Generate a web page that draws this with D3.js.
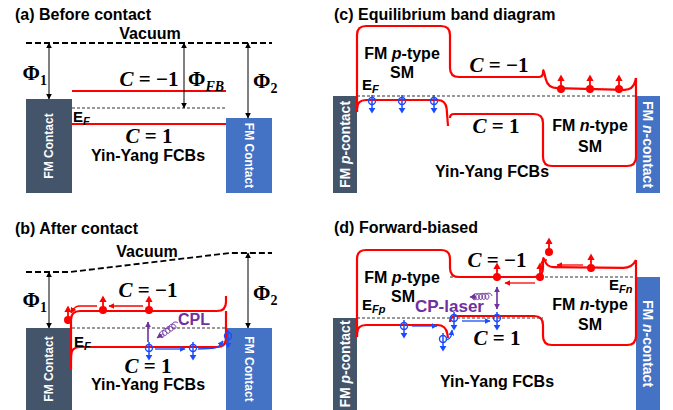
<!DOCTYPE html>
<html>
<head>
<meta charset="utf-8">
<script src="https://cdn.jsdelivr.net/npm/d3@7"></script>
<style>
  body { margin: 0; background: #fff; }
  svg { display: block; }
</style>
</head>
<body>
<div id="chart"></div>
<script>
// positions along the junction are in nm, energies in eV

const titles = ["(a) Before contact", "(b) After contact", "(c) Equilibrium band diagram", "(d) Forward-biased"];

// (a) before contact, energies below vacuum
const contactsA = [{ x0: 0, x1: 46, top: -2.8, side: "left", name: "FM Contact" },
                   { x0: 200, x1: 246, top: -3.75, side: "right", name: "FM Contact" }];
const bottomA = -7.5;
const levelsA = [-2.4, -4.05];          // C = -1 and C = 1 flat bands
const fermiA = -3.25;
const phiA = [{ sub: "1", pos: 23, E: -2.8, lpos: 21, lE: -1.85, anchor: "end" },
              { sub: "FB", pos: 158, E: -3.25, lpos: 162, lE: -2.15, anchor: "start" },
              { sub: "2", pos: 222, E: -3.75, lpos: 227, lE: -2.25, anchor: "start" }];
const textA = [{ t: "Vacuum", pos: 124, E: 0.2 }, { t: "Yin-Yang FCBs", pos: 122, E: -5.9 }];
const chernA = [{ c: "−1", pos: 123, E: -2.15 }, { c: "1", pos: 123, E: -5.0 }];
const efA = [{ sub: "F", pos: 47, E: -3.95 }];

// (b) after contact, energies from E_F
const vacuumB = [[0, 2.8], [44, 2.8], [204, 3.75], [246, 3.75]];
const contactsB = [{ x0: 0, x1: 46, top: 0, side: "left", name: "FM Contact" },
                   { x0: 200, x1: 246, top: 0, side: "right", name: "FM Contact" }];
const bottomB = -4.1;
const bandsB = [[[45, -2.05], [45, 0.85], [200, 0.85], [200, 1.6]],
                [[45, -1.6], [45, -0.95], [200, -0.95], [200, 0.85]]];
const phiB = [{ sub: "1", pos: 23, E: 2.8, lpos: 21, lE: 1.05, anchor: "end" },
              { sub: "2", pos: 222, E: 3.75, lpos: 227, lE: 1.4, anchor: "start" }];
const spinUpB = [[77, 0.9], [123, 0.9], [42, 0.4]];
const spinDownB = [[123, -1.0], [167, -1.0], [202, -0.4]];
const redFlowB = [[[117, 1.1], [83, 1.1]], [[71, 1.1], [49, 1.1], [45, 0.75]]];
const blueFlowB = [[[129, -1.05], [159, -1.05]], [[172, -1.05], [192, -1.0], [197, -0.65]]];
const pumpB = [[122, -0.7], [122, 0.3]];
const coilB = [[152, 0.25], [131, -0.5]];
const textB = [{ t: "Vacuum", pos: 121, E: 3.55 }, { t: "Yin-Yang FCBs", pos: 122, E: -3.1 }];
const chernB = [{ c: "−1", pos: 122, E: 1.55 }, { c: "1", pos: 122, E: -2.25 }];
const efB = [{ sub: "F", pos: 48, E: -0.95 }];
const lightB = [{ t: "CPL", pos: 152, E: 0.15 }];

// (c) equilibrium, energies from E_F
const contactsC = [{ x0: -24, x1: 0, top: 0, side: "left", name: "p" },
                   { x0: 279, x1: 303, top: 0, side: "right", name: "n" }];
const bottomC = -4.85;
const bandsC = [[[0, -0.8], [0, 3.5], [93, 3.5], [93, 0.95], [186, 0.95], [186, 1.4], [191, 0.4], [276, 0.3], [279, 0.9]],
                [[0, -0.8], [0, -0.2], [89, -0.2], [91, -1.5]],
                [[93, -1.1], [93, -0.9], [186, -0.9], [186, -3.5], [279, -3.5], [279, 0.9]]];
const fermiC = [{ E: 0, from: 0, to: 279 }];
const spinUpC = [[204, 0.35], [233, 0.35], [262, 0.35]];
const spinDownC = [[15, -0.25], [45, -0.25], [77, -0.25]];
const textC = [{ t: "SM", pos: 45, E: 0.9 }, { t: "SM", pos: 233, E: -2.8 }, { t: "Yin-Yang FCBs", pos: 135, E: -4.05 }];
const typeC = [{ k: "p", pos: 45, E: 1.85 }, { k: "n", pos: 233, E: -1.75 }];
const chernC = [{ c: "−1", pos: 142, E: 1.2 }, { c: "1", pos: 139, E: -1.85 }];
const efC = [{ sub: "F", pos: 5, E: 0.3 }];

// (d) forward bias, energies from E_Fp
const contactsD = [{ x0: -24, x1: 0, top: 0, side: "left", name: "p" },
                   { x0: 279, x1: 303, top: 2.05, side: "right", name: "n" }];
const bottomD = -4.6;
const bandsD = [[[0, -0.95], [0, 3.4], [93, 3.4], [93, 2.05], [186, 2.05], [186, 3.15], [190, 2.55], [275, 2.5], [279, 2.9]],
                [[0, -0.95], [0, -0.35], [89, -0.35], [91, -1.0]],
                [[93, -0.2], [93, 0.1], [186, 0.1], [186, -1.35], [279, -1.35], [279, 2.9]]];
const fermiD = [{ E: 0, from: 0, to: 186 }, { E: 2.05, from: 93, to: 279 }];
const spinUpD = [[140, 2.05], [183, 2.05], [192, 3.3], [234, 2.5]];
const spinDownD = [[47, -0.4], [86, -1.05], [97, 0], [140, 0]];
const redFlowD = [[[226, 2.65], [200, 2.65]], [[178, 1.75], [148, 1.75]], [[190, 2.9], [184, 2.9], [184, 2.35]]];
const blueFlowD = [[[55, -0.4], [80, -0.4]], [[105, -0.15], [133, -0.15]], [[89, -1.1], [94, -1.05], [95, -0.6]]];
const pumpD = [[140, 1.55], [140, 0.45]];
const coilD = [[135, 1.1], [113, 1.05]];
const textD = [{ t: "SM", pos: 46, E: 0.8 }, { t: "SM", pos: 233, E: -0.6 }, { t: "Yin-Yang FCBs", pos: 140, E: -3.45 }];
const typeD = [{ k: "p", pos: 45, E: 1.75 }, { k: "n", pos: 233, E: 0.4 }];
const chernD = [{ c: "−1", pos: 140, E: 2.55 }, { c: "1", pos: 140, E: -1.35 }];
const efD = [{ sub: "Fp", pos: 5, E: 0.4 }, { sub: "Fn", pos: 252, E: 1.4 }];
const lightD = [{ t: "CP-laser", pos: 58, E: 0.3 }];

const W = 673, H = 410;
const RED = "#ff0000", BLUE = "#1a4cff", PURPLE = "#7030a0", DARK = "#44546a", STEEL = "#4472c4";
const SANS = "'Liberation Sans', Arial, sans-serif", SERIF = "'Liberation Serif', 'Times New Roman', serif";

const svg = d3.select("#chart").append("svg")
    .attr("width", W).attr("height", H)
    .style("font-family", SANS);

const defs = svg.append("defs");
[["black", "#000"], ["red", RED], ["blue", BLUE], ["purple", PURPLE]].forEach(([id, c]) => {
    defs.append("marker").attr("id", "ah-" + id)
        .attr("viewBox", "0 -5 10 10").attr("refX", 9).attr("refY", 0)
        .attr("markerUnits", "userSpaceOnUse")
        .attr("markerWidth", 6).attr("markerHeight", 6)
        .attr("orient", "auto-start-reverse")
        .append("path").attr("d", "M0,-5L10,0L0,5Z").attr("fill", c);
});

// scales per panel
const xAB = d3.scaleLinear().domain([0, 246]).range([26, 272]);
const yA = d3.scaleLinear().domain([0, -1]).range([43, 63]);
const yB = d3.scaleLinear().domain([0, 1]).range([328, 308]);
const xCD = d3.scaleLinear().domain([0, 279]).range([357, 636]);
const yC = d3.scaleLinear().domain([0, 1]).range([96, 76]);
const yD = d3.scaleLinear().domain([0, 1]).range([318, 298]);

// polyline with rounded corners
function roundPath(pts, r) {
    const p = d3.path();
    p.moveTo(pts[0][0], pts[0][1]);
    for (let i = 1; i < pts.length - 1; i++) {
        const [x0, y0] = pts[i - 1], [x1, y1] = pts[i], [x2, y2] = pts[i + 1];
        const d1 = Math.hypot(x1 - x0, y1 - y0), d2 = Math.hypot(x2 - x1, y2 - y1);
        const rr = Math.min(r, i === 1 ? d1 : d1 / 2, i === pts.length - 2 ? d2 : d2 / 2);
        p.lineTo(x1 - (x1 - x0) / d1 * rr, y1 - (y1 - y0) / d1 * rr);
        p.quadraticCurveTo(x1, y1, x1 + (x2 - x1) / d2 * rr, y1 + (y2 - y1) / d2 * rr);
    }
    const last = pts[pts.length - 1];
    p.lineTo(last[0], last[1]);
    return p.toString();
}

function panel(x, y) {
    const g = svg.append("g");
    const px = d => [x(d[0]), y(d[1])];

    g.contacts = function (list, bottom) {
        list.forEach(c => {
            const x0 = x(c.x0), x1 = x(c.x1), y0 = y(c.top), y1 = Math.min(y(bottom), H + 2);
            g.append("rect").attr("x", x0).attr("y", y0).attr("width", x1 - x0).attr("height", y1 - y0)
                .attr("fill", c.side === "left" ? DARK : STEEL);
            const t = g.append("text")
                .attr("transform", `translate(${(x0 + x1) / 2},${(y0 + Math.min(y1, H)) / 2}) rotate(${c.side === "left" ? -90 : 90})`)
                .attr("text-anchor", "middle").attr("dominant-baseline", "central")
                .attr("fill", "#fff").attr("font-weight", "bold");
            if (c.name === "FM Contact") {
                t.attr("font-size", 12).text("FM Contact");
            } else {
                t.attr("font-size", 14);
                t.append("tspan").text("FM ");
                t.append("tspan").attr("font-style", "italic").text(c.name);
                t.append("tspan").text("-contact");
            }
        });
    };
    g.bands = function (list) {
        list.forEach(b => g.append("path").attr("d", roundPath(b.map(px), 9))
            .attr("fill", "none").attr("stroke", RED).attr("stroke-width", 2.2)
            .attr("stroke-linejoin", "round"));
    };
    g.dashed = function (pts, kind) {
        g.append("path").attr("d", d3.line()(pts.map(px))).attr("fill", "none")
            .attr("stroke", kind === "vac" ? "#000" : "#333")
            .attr("stroke-width", kind === "vac" ? 1.8 : 1)
            .attr("stroke-dasharray", kind === "vac" ? "6,3" : "3,2");
    };
    g.fermi = function (list) {
        list.forEach(f => g.dashed([[f.from, f.E], [f.to, f.E]], "fermi"));
    };
    g.phi = function (list, E0) {
        list.forEach(d => {
            g.append("line").attr("x1", x(d.pos)).attr("x2", x(d.pos))
                .attr("y1", y(E0)).attr("y2", y(d.E))
                .attr("stroke", "#000").attr("stroke-width", 1)
                .attr("marker-start", "url(#ah-black)").attr("marker-end", "url(#ah-black)");
            const t = g.append("text").attr("x", x(d.lpos)).attr("y", y(d.lE))
                .attr("text-anchor", d.anchor).attr("font-family", SERIF)
                .attr("font-weight", "bold").attr("font-size", 21);
            t.append("tspan").text("Φ");
            t.append("tspan").attr("dy", 5).attr("font-size", 14)
                .attr("font-style", d.sub === "FB" ? "italic" : "normal").text(d.sub);
        });
    };
    g.text = function (list, opts) {
        list.forEach(d => g.append("text").attr("x", x(d.pos)).attr("y", y(d.E))
            .attr("text-anchor", (opts && opts.anchor) || "middle")
            .attr("font-weight", "bold").attr("font-size", (opts && opts.size) || 16)
            .attr("fill", (opts && opts.color) || "#000").text(d.t));
    };
    g.types = function (list) {
        list.forEach(d => {
            const t = g.append("text").attr("x", x(d.pos)).attr("y", y(d.E))
                .attr("text-anchor", "middle").attr("font-weight", "bold").attr("font-size", 16);
            t.append("tspan").text("FM ");
            t.append("tspan").attr("font-style", "italic").text(d.k);
            t.append("tspan").text("-type");
        });
    };
    g.chern = function (list) {
        list.forEach(d => {
            const t = g.append("text").attr("x", x(d.pos)).attr("y", y(d.E))
                .attr("text-anchor", "middle").attr("font-family", SERIF)
                .attr("font-weight", "bold").attr("font-size", 21);
            t.append("tspan").attr("font-style", "italic").text("C");
            t.append("tspan").text(" = " + d.c);
        });
    };
    g.ef = function (list) {
        list.forEach(d => {
            const t = g.append("text").attr("x", x(d.pos)).attr("y", y(d.E))
                .attr("font-weight", "bold").attr("font-size", 15);
            t.append("tspan").text("E");
            t.append("tspan").attr("dy", 3).attr("font-size", 11).attr("font-style", "italic").text(d.sub);
        });
    };
    g.spinsUp = function (list) {
        list.forEach(d => {
            const [cx, cy] = px(d);
            g.append("line").attr("x1", cx).attr("x2", cx).attr("y1", cy + 4).attr("y2", cy - 9)
                .attr("stroke", RED).attr("stroke-width", 1.8);
            g.append("path").attr("d", `M${cx - 3.6},${cy - 8}L${cx + 3.6},${cy - 8}L${cx},${cy - 14.5}Z`).attr("fill", RED);
            g.append("circle").attr("cx", cx).attr("cy", cy).attr("r", 4).attr("fill", RED);
        });
    };
    g.spinsDown = function (list) {
        list.forEach(d => {
            const [cx, cy] = px(d);
            g.append("line").attr("x1", cx).attr("x2", cx).attr("y1", cy - 6).attr("y2", cy + 8)
                .attr("stroke", BLUE).attr("stroke-width", 1.5);
            g.append("path").attr("d", `M${cx - 3.4},${cy + 7}L${cx + 3.4},${cy + 7}L${cx},${cy + 12.5}Z`).attr("fill", BLUE);
            g.append("circle").attr("cx", cx).attr("cy", cy).attr("r", 3.5)
                .attr("fill", "none").attr("stroke", BLUE).attr("stroke-width", 1.4);
        });
    };
    g.flows = function (list, color, id) {
        list.forEach(f => g.append("path").attr("d", roundPath(f.map(px), 5))
            .attr("fill", "none").attr("stroke", color).attr("stroke-width", 1.3)
            .attr("marker-end", `url(#ah-${id})`));
    };
    g.pump = function (seg, both) {
        const [a, b] = seg.map(px);
        g.append("line").attr("x1", a[0]).attr("y1", a[1]).attr("x2", b[0]).attr("y2", b[1])
            .attr("stroke", PURPLE).attr("stroke-width", 1.6)
            .attr("marker-end", "url(#ah-purple)")
            .attr("marker-start", both ? "url(#ah-purple)" : null);
    };
    g.coil = function (seg) {
        const [a, b] = seg.map(px);
        const dx = b[0] - a[0], dy = b[1] - a[1], L = Math.hypot(dx, dy);
        const ux = dx / L, uy = dy / L, nx = -uy, ny = ux;
        const loops = 5, amp = 3, span = 0.72;
        const pts = d3.range(0, 121).map(i => {
            const t = i / 120, ph = 2 * Math.PI * loops * t;
            const s = t * span * L + amp * 0.9 * (1 - Math.cos(ph));
            return [a[0] + ux * s + nx * amp * Math.sin(ph), a[1] + uy * s + ny * amp * Math.sin(ph)];
        });
        pts.push(b);
        g.append("path").attr("d", d3.line()(pts)).attr("fill", "none")
            .attr("stroke", PURPLE).attr("stroke-width", 1)
            .attr("marker-end", "url(#ah-purple)");
    };
    return g;
}

// titles
const titleAt = [[15, 20], [15, 234], [334, 20], [334, 233]];
titles.forEach((t, i) => svg.append("text").attr("x", titleAt[i][0]).attr("y", titleAt[i][1])
    .attr("font-weight", "bold").attr("font-size", 16).text(t));

// (a)
const pa = panel(xAB, yA);
pa.contacts(contactsA, bottomA);
pa.dashed([[0, 0], [246, 0]], "vac");
pa.fermi([{ E: fermiA, from: 46, to: 200 }]);
pa.bands(levelsA.map(E => [[46, E], [200, E]]));
pa.phi(phiA, 0);
pa.text(textA);
pa.chern(chernA);
pa.ef(efA);

// (b)
const pb = panel(xAB, yB);
pb.contacts(contactsB, bottomB);
pb.dashed(vacuumB, "vac");
pb.fermi([{ E: 0, from: 46, to: 200 }]);
pb.bands(bandsB);
pb.phi(phiB, 0);
pb.flows(redFlowB, RED, "red");
pb.flows(blueFlowB, BLUE, "blue");
pb.pump(pumpB, false);
pb.coil(coilB);
pb.spinsUp(spinUpB);
pb.spinsDown(spinDownB);
pb.text(textB);
pb.text(lightB, { anchor: "start", color: PURPLE });
pb.chern(chernB);
pb.ef(efB);

// (c)
const pc = panel(xCD, yC);
pc.contacts(contactsC, bottomC);
pc.fermi(fermiC);
pc.bands(bandsC);
pc.spinsUp(spinUpC);
pc.spinsDown(spinDownC);
pc.types(typeC);
pc.text(textC);
pc.chern(chernC);
pc.ef(efC);

// (d)
const pd = panel(xCD, yD);
pd.contacts(contactsD, bottomD);
pd.fermi(fermiD);
pd.bands(bandsD);
pd.flows(redFlowD, RED, "red");
pd.flows(blueFlowD, BLUE, "blue");
pd.pump(pumpD, true);
pd.coil(coilD);
pd.spinsUp(spinUpD);
pd.spinsDown(spinDownD);
pd.types(typeD);
pd.text(textD);
pd.text(lightD, { anchor: "start", color: PURPLE, size: 17 });
pd.chern(chernD);
pd.ef(efD);
</script>
</body>
</html>
